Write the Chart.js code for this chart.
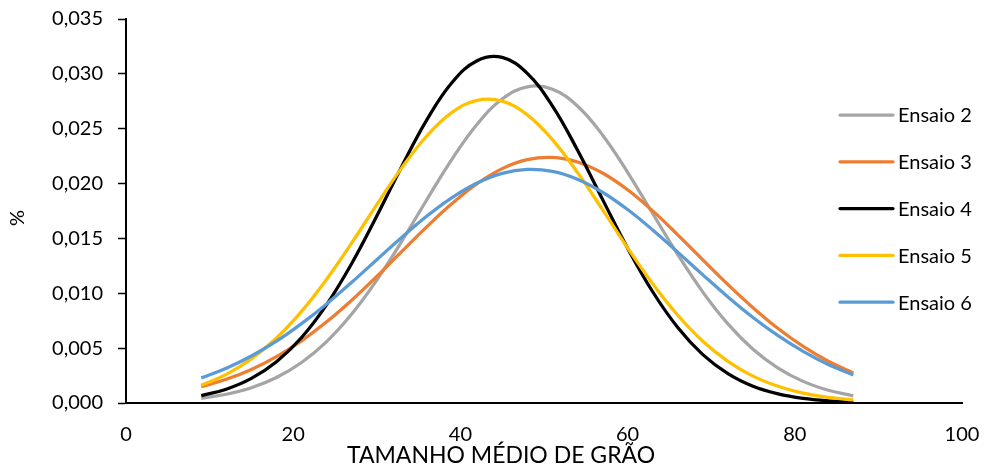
<!DOCTYPE html>
<html>
<head>
<meta charset="utf-8">
<script src="https://cdn.jsdelivr.net/npm/chart.js@4.4.1/dist/chart.umd.min.js"></script>
<style>
  html, body { margin: 0; padding: 0; background: #fff; }
  #wrap { width: 987px; height: 467px; position: relative; }
</style>
</head>
<body>
<div id="wrap"><canvas id="c" width="987" height="467"></canvas></div>
<script>
// Grain size classes (x) and the distribution of each run (y)
const grainSize = [9, 12, 15, 18, 21, 24, 27, 30, 33, 36, 39, 42, 45, 48, 51, 54, 57, 60, 63, 66, 69, 72, 75, 78, 81, 84, 87];

const ensaio2 = [0.00043, 0.00080, 0.00139, 0.00232, 0.00369, 0.00560, 0.00811, 0.01120, 0.01476, 0.01855, 0.02223, 0.02541, 0.02771, 0.02882, 0.02860, 0.02707, 0.02443, 0.02103, 0.01727, 0.01353, 0.01011, 0.00721, 0.00490, 0.00318, 0.00197, 0.00116, 0.00065];
const ensaio3 = [0.00148, 0.00216, 0.00306, 0.00423, 0.00567, 0.00740, 0.00937, 0.01154, 0.01382, 0.01608, 0.01818, 0.01999, 0.02136, 0.02218, 0.02239, 0.02197, 0.02096, 0.01943, 0.01751, 0.01533, 0.01305, 0.01080, 0.00869, 0.00679, 0.00516, 0.00381, 0.00274];
const ensaio4 = [0.00067, 0.00126, 0.00224, 0.00376, 0.00597, 0.00897, 0.01272, 0.01705, 0.02159, 0.02583, 0.02921, 0.03120, 0.03150, 0.03005, 0.02708, 0.02306, 0.01856, 0.01411, 0.01014, 0.00688, 0.00441, 0.00268, 0.00153, 0.00083, 0.00042, 0.00020, 0.00009];
const ensaio5 = [0.00162, 0.00261, 0.00402, 0.00592, 0.00835, 0.01128, 0.01459, 0.01808, 0.02145, 0.02436, 0.02649, 0.02759, 0.02751, 0.02626, 0.02401, 0.02102, 0.01762, 0.01414, 0.01087, 0.00800, 0.00563, 0.00380, 0.00245, 0.00152, 0.00090, 0.00051, 0.00028];
const ensaio6 = [0.00229, 0.00317, 0.00428, 0.00563, 0.00723, 0.00903, 0.01100, 0.01306, 0.01511, 0.01704, 0.01872, 0.02005, 0.02093, 0.02129, 0.02111, 0.02040, 0.01921, 0.01763, 0.01577, 0.01375, 0.01168, 0.00967, 0.00780, 0.00614, 0.00471, 0.00351, 0.00256];

const seriesNames = ['Ensaio 2', 'Ensaio 3', 'Ensaio 4', 'Ensaio 5', 'Ensaio 6'];
const seriesColors = ['#A5A5A5', '#ED7D31', '#000000', '#FFC000', '#5B9BD5'];
const seriesValues = [ensaio2, ensaio3, ensaio4, ensaio5, ensaio6];

const yTickLabels = ['0,000', '0,005', '0,010', '0,015', '0,020', '0,025', '0,030', '0,035'];
const xTickLabels = ['0', '20', '40', '60', '80', '100'];

const xTitle = 'TAMANHO MÉDIO DE GRÃO';
const yTitle = '%';

const FONT = 'Lato';

const datasets = seriesValues.map((vals, i) => ({
  label: seriesNames[i],
  data: vals.map((v, k) => ({ x: grainSize[k], y: v })),
  borderColor: seriesColors[i],
  backgroundColor: seriesColors[i],
  borderWidth: 3.25,
  pointRadius: 0,
  tension: 0.4,
  fill: false,
  order: seriesNames.length - i
}));

// Legend inside the plot on the right, plus the two axis titles
const decorations = {
  id: 'decorations',
  afterDraw(chart) {
    const ctx = chart.ctx;
    ctx.save();
    ctx.font = `20px ${FONT}`;
    ctx.textBaseline = 'middle';
    ctx.textAlign = 'left';
    const x0 = 840, lineLen = 53, yTop = 115, gap = 46.8;
    seriesNames.forEach((name, i) => {
      const y = yTop + i * gap;
      ctx.strokeStyle = seriesColors[i];
      ctx.lineWidth = 3.25;
      ctx.lineCap = 'round';
      ctx.beginPath();
      ctx.moveTo(x0, y);
      ctx.lineTo(x0 + lineLen, y);
      ctx.stroke();
      ctx.fillStyle = '#000';
      ctx.fillText(name, x0 + lineLen + 5, y + 1);
    });

    ctx.font = `23px ${FONT}`;
    ctx.textAlign = 'center';
    ctx.textBaseline = 'alphabetic';
    ctx.fillStyle = '#000';
    ctx.fillText(xTitle, 501, 463);

    ctx.translate(18, 218);
    ctx.rotate(-Math.PI / 2);
    ctx.font = `20px ${FONT}`;
    ctx.textBaseline = 'middle';
    ctx.fillText(yTitle, 0, 0);
    ctx.restore();
  }
};

new Chart(document.getElementById('c'), {
  type: 'line',
  data: { datasets },
  options: {
    responsive: false,
    animation: false,
    events: [],
    layout: { padding: { left: 0, right: 25, top: 19, bottom: 0 } },
    plugins: {
      legend: { display: false },
      tooltip: { enabled: false },
      title: { display: false }
    },
    scales: {
      x: {
        type: 'linear',
        min: 0,
        max: 100,
        afterBuildTicks: (scale) => {
          scale.ticks = xTickLabels.map(t => ({ value: Number(t) }));
        },
        ticks: {
          autoSkip: false,
          maxRotation: 0,
          padding: 20,
          color: '#000',
          font: { family: FONT, size: 20 },
          callback: (v, idx) => xTickLabels[idx]
        },
        grid: { display: false, drawTicks: false },
        border: { display: true, color: '#000', width: 2 },
        afterFit: (scale) => {
          scale.height = 64;
          scale.paddingLeft = 0;
          scale.paddingRight = 0;
        }
      },
      y: {
        type: 'linear',
        min: 0,
        max: 0.035,
        afterBuildTicks: (scale) => {
          scale.ticks = yTickLabels.map(t => ({ value: Number(t.replace(',', '.')) }));
        },
        ticks: {
          autoSkip: false,
          padding: 15,
          color: '#000',
          font: { family: FONT, size: 20 },
          callback: (v, idx) => yTickLabels[idx]
        },
        grid: {
          display: true,
          drawOnChartArea: false,
          drawTicks: true,
          tickLength: 8,
          tickColor: '#000',
          tickWidth: 1.5
        },
        border: { display: true, color: '#000', width: 2 },
        afterFit: (scale) => {
          scale.width = 126;
          scale.paddingTop = 0;
          scale.paddingBottom = 0;
        }
      }
    }
  },
  plugins: [decorations]
});
</script>
</body>
</html>
